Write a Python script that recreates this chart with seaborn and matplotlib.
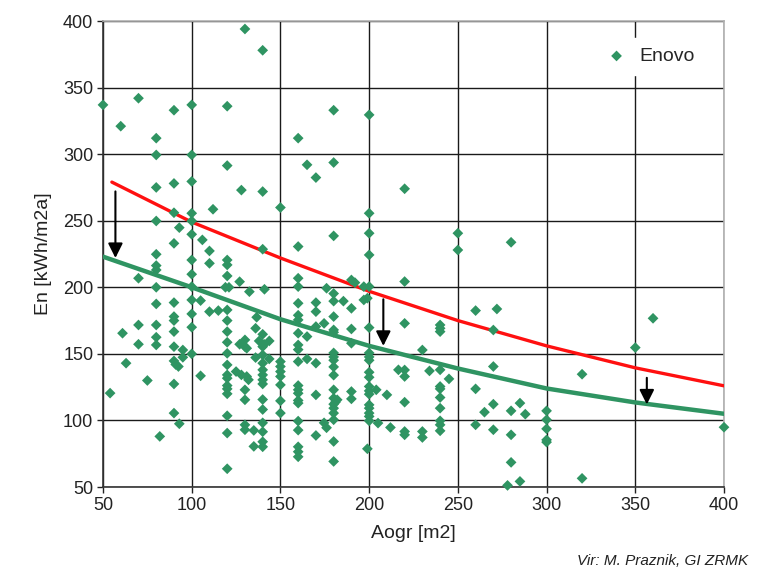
import matplotlib
matplotlib.use("Agg")
import matplotlib.pyplot as plt
import seaborn as sns
import pandas as pd

# ---------------- data ----------------
area = [
    130, 140, 50, 70, 90, 100, 120, 60, 80, 180, 200, 160,
    80, 100, 120, 100, 80, 90, 128, 112, 90, 100, 80, 100, 93, 100, 106, 90, 110, 80,
    100, 120, 110, 120, 80, 80, 100, 120, 70, 127, 80, 100, 119, 121, 132.5, 80, 90,
    100, 105, 115, 110, 120, 100,
    90, 90, 120, 70, 80, 100, 61, 90, 120, 80, 130, 120, 70, 80, 127, 130, 131, 90, 95,
    100, 120, 95, 90, 91, 92.5, 63, 120, 105, 120, 120, 125, 128, 131, 132, 75, 120, 120,
    120, 90, 130, 54, 130, 90, 120, 93, 130, 130, 135, 120, 82, 135, 120,
    165, 180, 170, 140, 150, 200, 220, 180, 200, 140, 160, 200, 220, 160, 160, 141, 176,
    190, 192, 197, 200, 180, 180, 185.5, 197, 199, 170, 170, 160, 190,
    250, 250, 280, 260, 272, 320, 320, 350, 360, 400,
    220, 240, 240, 240, 270, 230, 270, 220, 220, 234, 240, 245, 240, 240, 240, 240, 260,
    220, 270, 285, 265, 280, 288, 300, 300, 300, 300, 300, 240, 240, 240, 260, 220, 220,
    230, 230, 270, 280, 280, 278, 285,
    136.6, 160, 160, 180, 174.6, 170, 190, 200, 180, 180, 160, 165,
    136, 140, 138, 143.7, 140.8, 140, 140, 136, 143.7, 140, 140, 140, 140, 140,
    150, 150, 150, 150, 150, 160, 160, 165, 170, 160,
    180, 180, 180, 180, 180, 190, 200, 200, 200, 200, 200, 216.5,
    160, 160, 160, 160, 160, 170, 180, 180, 180, 180, 180, 180, 182, 181,
    190, 190, 200, 200, 200, 204, 210, 200, 200, 200, 200, 200, 205, 212,
    150, 150, 140, 140, 140, 140, 140, 140, 160, 160, 160, 160, 160, 170, 174.6, 176,
    180, 180, 199,
]
energy = [
    394, 378, 337, 342, 333, 337, 336, 321, 312, 333, 329.5, 312,
    299.4, 299.4, 291.4, 279.5, 275, 278, 273, 258.6, 256, 255.6, 249.8, 249.8, 244.8,
    239.8, 235.6, 233, 227.3, 224.8, 220.5, 220.5, 218, 216.8, 216.3, 213, 209.8, 208.5,
    206.8, 204.2, 200, 200.5, 200, 200, 196.7, 187.5, 188.5, 190.5, 190, 182.5, 181.7,
    183, 180,
    178, 175, 175, 171.7, 171.7, 170, 165.5, 166.7, 166.7, 162.5, 160.5, 158.7, 157.2,
    156.7, 157.2, 155.4, 154.2, 155.4, 152.9, 150, 150.4, 147.4, 144.7, 142, 140.5, 143,
    141.7, 133.5, 134.2, 131.7, 136.7, 134.2, 133, 130.5, 130, 126.2, 123.7, 120, 127.4,
    123, 120.5, 115.5, 105.5, 103.5, 97.5, 96.7, 93, 92.5, 90.5, 88, 80.5, 63.7,
    292, 293.7, 282.4, 271.9, 259.9, 255.6, 274, 238.6, 240.6, 228.6, 230.6, 224.3,
    204.3, 206.8, 200.5, 198.5, 199.3, 205.5, 203.5, 200.5, 200.5, 195.3, 189.6, 189.6,
    190.5, 191.8, 188.5, 181.7, 188, 184.2,
    240.6, 228, 233.8, 182.5, 183.7, 134.7, 56.5, 154.7, 176.7, 94.9,
    172.9, 171.7, 169.2, 166.7, 167.9, 152.9, 140.5, 137.9, 133, 137.2, 138, 131.2,
    125.5, 123.7, 117.2, 109.2, 123.7, 113.7, 112.2, 113, 106.2, 107.2, 104.7, 107.2,
    100.5, 93.7, 85.4, 83.7, 99.7, 96.7, 92.2, 96.7, 91.7, 89.2, 91.7, 87.2, 93, 89.2,
    68.5, 51.2, 54.2,
    177.5, 179, 175.5, 178, 172.9, 170.5, 168.7, 169.7, 168, 166.2, 165.5, 163,
    169.2, 164.7, 159.7, 159.7, 157.2, 155.4, 149.2, 147.2, 146.2, 143, 138, 134.2,
    130.5, 127.4,
    144.2, 140.5, 136.7, 133, 126.7, 156.7, 153.2, 146.2, 143, 144.2,
    150.7, 147.7, 145.2, 140.2, 134, 158, 150.7, 147.7, 145.2, 136.2, 132.4, 138,
    126.2, 123, 120.4, 115, 113, 119.2, 123, 116.7, 112.2, 109.2, 105.5, 100.5, 115.5,
    113.7,
    121.7, 116.2, 125.5, 122.2, 119.7, 123, 119.2, 111.7, 109.2, 105.5, 103, 99.7, 98,
    94.7,
    114.7, 105.5, 115.7, 108.2, 98.2, 91.5, 84, 80.2, 99.5, 92.7, 80.2, 76.5, 72.7,
    88.7, 98.2, 94.5, 84.2, 69.2, 78.7,
]

# reference curves
red_x = [55, 100, 150, 200, 250, 300, 350, 400]
red_y = [279, 249, 222, 197, 175, 156, 139.5, 126]
green_x = [50, 100, 150, 200, 250, 300, 350, 400]
green_y = [223, 200, 176, 156, 139, 124, 113.5, 105]

# arrows: (x, y_start, y_end)
arrow_x = [57, 208, 356.5]
arrow_y0 = [272, 191, 132]
arrow_y1 = [222, 156, 112]

x_ticks = [50, 100, 150, 200, 250, 300, 350, 400]
y_ticks = [50, 100, 150, 200, 250, 300, 350, 400]

n = min(len(area), len(energy))
df = pd.DataFrame({"Aogr": area[:n], "En": energy[:n]})
df_red = pd.DataFrame({"x": red_x, "y": red_y})
df_green = pd.DataFrame({"x": green_x, "y": green_y})

# ---------------- style ----------------
sns.set_theme(style="white")
plt.rcParams["font.family"] = ["Liberation Sans", "DejaVu Sans"]

GREEN = "#2f9462"
fig = plt.figure(figsize=(7.67, 5.70), dpi=100)
ax = fig.add_axes([103 / 767, 1 - 487 / 570, (724 - 103) / 767, (487 - 21) / 570])

sns.lineplot(data=df_red, x="x", y="y", ax=ax, color="#ff1010", lw=2.4, zorder=3)
sns.lineplot(data=df_green, x="x", y="y", ax=ax, color=GREEN, lw=3.2, zorder=3)
sns.scatterplot(data=df, x="Aogr", y="En", ax=ax, marker="D", s=30, color=GREEN,
                edgecolor="none", label="Enovo", zorder=4, clip_on=False)

for xa, y0, y1 in zip(arrow_x, arrow_y0, arrow_y1):
    ax.annotate("", xy=(xa, y1), xytext=(xa, y0),
                arrowprops=dict(arrowstyle="-|>", color="black", lw=1.5,
                                mutation_scale=22, shrinkA=0, shrinkB=0),
                zorder=5)

ax.set_xlim(50, 400)
ax.set_ylim(50, 400)
ax.set_xticks(x_ticks)
ax.set_yticks(y_ticks)
ax.tick_params(axis="both", labelsize=13, colors="#222222", length=4, width=1,
               direction="out", bottom=True, left=True, pad=3)
ax.grid(True, color="#1a1a1a", lw=1.0)
ax.set_axisbelow(True)
for side in ["left", "bottom"]:
    ax.spines[side].set_color("#333333")
    ax.spines[side].set_linewidth(1.2)
for side in ["top", "right"]:
    ax.spines[side].set_color("#b0b0b0")
    ax.spines[side].set_linewidth(1.2)

ax.set_xlabel("Aogr [m2]", fontsize=14, color="#222222", labelpad=8)
ax.set_ylabel("En [kWh/m2a]", fontsize=14, color="#222222", labelpad=8)

leg = ax.legend(loc="upper right", fontsize=14, frameon=True, framealpha=1,
                handletextpad=0.2, borderpad=0.5, markerscale=1.0,
                bbox_to_anchor=(0.985, 0.985))
leg.get_frame().set_edgecolor("white")
leg.get_frame().set_facecolor("white")

fig.text(0.752, 0.003, "Vir: M. Praznik, GI ZRMK", fontsize=11, style="italic",
         color="#222222", ha="left", va="bottom")

fig.savefig("out.png", dpi=100)
